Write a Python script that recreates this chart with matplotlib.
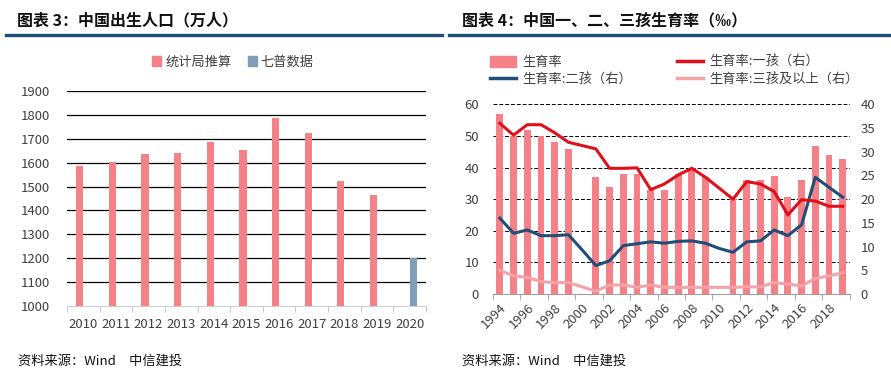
import numpy as np
import matplotlib
matplotlib.use("Agg")
import matplotlib.pyplot as plt
import matplotlib.patches as mpatches
from matplotlib.lines import Line2D

plt.rcParams["font.family"] = ["Noto Sans CJK SC", "DejaVu Sans"]
plt.rcParams["axes.unicode_minus"] = False

# ─── dados: gráfico 3 ─────────────────────────────────────────────────────────
anos_nasc = ["2010", "2011", "2012", "2013", "2014", "2015", "2016",
             "2017", "2018", "2019", "2020"]
nasc_est = [1588, 1604, 1635, 1640, 1687, 1655, 1786, 1723, 1523, 1465, np.nan]
nasc_censo = [np.nan] * 10 + [1200]

# ─── dados: gráfico 4 ─────────────────────────────────────────────────────────
anos_taxa = list(range(1994, 2020))
taxa_total = [57, 50, 52, 50, 48, 46, np.nan, 37, 34, 38, 38, 33, 33, 38, 40,
              37, np.nan, 30, 36, 36, 37.3, 30.6, 36, 46.8, 44, 42.6]
taxa_1 = [36, 33.5, 35.7, 35.7, 34, 32, 31.3, 30.6, 26.5, 26.5, 26.6, 22, 23.2,
          25.1, 26.5, 24.6, 22.3, 20, 23.7, 23.2, 21.6, 16.7, 19.9, 19.6, 18.5, 18.5]
taxa_2 = [16, 12.8, 13.5, 12.3, 12.3, 12.5, 9.3, 6, 7, 10.2, 10.6, 11, 10.7,
          11.1, 11.2, 10.7, 9.6, 8.8, 11, 11.2, 13.5, 12.3, 14.6, 24.6, 22.5, 20.4]
taxa_3 = [5, 3.8, 3.5, 2.6, 2.4, 2.4, 1.5, 0.6, 1.9, 1.9, 1.4, 1.9, 1.4, 1.4,
          1.4, 1.4, 1.4, 1.4, 1.5, 1.5, 2.4, 2.1, 1.7, 3.3, 3.8, 4.5]

# ─── paleta ───────────────────────────────────────────────────────────────────
ROSA = "#F48088"
AZUL_CINZA = "#7F9FB9"
VERMELHO = "#E0101A"
AZUL = "#1F4E79"
ROSA_CLARO = "#F5A3A8"
NAVY = "#1F4E79"
TXT = "#404040"

W, H = 891, 378
fig = plt.figure(figsize=(W / 100, H / 100), dpi=100)
fig.patch.set_facecolor("white")

def fx(px):
    return px / W

def fy(py):
    return 1 - py / H

# títulos e linhas
fig.text(fx(17), fy(20), "图表 3：中国出生人口（万人）", fontsize=11.5,
         fontweight="bold", va="center", ha="left", color="#111111")
fig.text(fx(462), fy(20), "图表 4：中国一、二、三孩生育率（‰）", fontsize=11.5,
         fontweight="bold", va="center", ha="left", color="#111111")
fig.add_artist(Line2D([fx(6), fx(442)], [fy(35), fy(35)], color=NAVY, lw=2.4))
fig.add_artist(Line2D([fx(449), fx(891)], [fy(35), fy(35)], color=NAVY, lw=2.4))

for x0 in (18, 462):
    fig.text(fx(x0), fy(361), "资料来源：Wind　中信建投", fontsize=9.5,
             style="italic", va="center", ha="left", color="#111111")

# ─── gráfico 3 ────────────────────────────────────────────────────────────────
ax1 = fig.add_axes([fx(67), fy(306), fx(426) - fx(67), fy(91) - fy(306)])
x = np.arange(len(anos_nasc))
bw = 0.22
ax1.bar(x - bw / 2, np.array(nasc_est) - 1000, bw, bottom=1000, color=ROSA,
        zorder=3, label="统计局推算")
ax1.bar(x + bw / 2, np.array(nasc_censo) - 1000, bw, bottom=1000,
        color=AZUL_CINZA, zorder=3, label="七普数据")
ax1.set_xlim(-0.5, len(anos_nasc) - 0.5)
ax1.set_ylim(1000, 1900)
ax1.set_yticks(range(1000, 2000, 100))
for v in range(1100, 2000, 100):
    ax1.axhline(v, color="black", lw=0.9, zorder=1)
ax1.set_xticks(x)
ax1.set_xticklabels(anos_nasc)
ax1.set_xticks(np.arange(-0.5, len(anos_nasc), 1), minor=True)
ax1.tick_params(axis="x", which="major", length=0, labelsize=9.5,
                colors=TXT, pad=9)
ax1.tick_params(axis="x", which="minor", length=4, color="#BFBFBF",
                direction="out")
ax1.tick_params(axis="y", length=0, labelsize=9.5, colors=TXT, pad=12)
for s in ("top", "right", "left"):
    ax1.spines[s].set_visible(False)
ax1.spines["bottom"].set_color("#D0D0D0")
ax1.set_facecolor("white")

h1 = [mpatches.Patch(color=ROSA, label="统计局推算"),
      mpatches.Patch(color=AZUL_CINZA, label="七普数据")]
fig.legend(handles=h1, loc="center", bbox_to_anchor=(fx(233), fy(62)),
           ncol=2, frameon=False, fontsize=9.5, handlelength=0.7,
           handleheight=0.7, handletextpad=0.3, columnspacing=1.2,
           labelcolor=TXT)

# ─── gráfico 4 ────────────────────────────────────────────────────────────────
ax2 = fig.add_axes([fx(493), fy(294), fx(849.6) - fx(493), fy(104.3) - fy(294)])
ax2.bar(anos_taxa, taxa_total, 0.5, color=ROSA, zorder=2)
ax2.set_xlim(1993.5, 2019.5)
ax2.set_ylim(0, 60)
ax2.set_yticks(range(0, 61, 10))
for v in range(10, 61, 10):
    ax2.axhline(v, color="black", lw=0.7, ls=(0, (4, 2)), zorder=1)
ax2.set_xticks(range(1994, 2020, 2))
ax2.set_xticklabels([str(a) for a in range(1994, 2020, 2)], rotation=45,
                    ha="right", va="top", rotation_mode="anchor")
ax2.set_xticks(np.arange(1993.5, 2020, 2), minor=True)
ax2.tick_params(axis="x", which="major", length=0, labelsize=9.5,
                colors=TXT, pad=5)
ax2.tick_params(axis="x", which="minor", length=4, color="#A0A0A0")
ax2.tick_params(axis="y", length=0, labelsize=9.5, colors=TXT, pad=10)
for s in ("top", "right", "left"):
    ax2.spines[s].set_visible(False)
ax2.spines["bottom"].set_color("#A0A0A0")

ax3 = ax2.twinx()
ax3.plot(anos_taxa, taxa_3, color=ROSA_CLARO, lw=2.2, zorder=3)
ax3.plot(anos_taxa, taxa_2, color=AZUL, lw=2.2, zorder=4)
ax3.plot(anos_taxa, taxa_1, color=VERMELHO, lw=2.2, zorder=5)
ax3.set_ylim(0, 40)
ax3.set_yticks(range(0, 41, 5))
ax3.tick_params(axis="y", length=0, labelsize=9.5, colors=TXT, pad=8)
for s in ("top", "right", "left", "bottom"):
    ax3.spines[s].set_visible(False)

h2 = [mpatches.Patch(color=ROSA, label="生育率"),
      Line2D([], [], color=AZUL, lw=2.5, label="生育率:二孩（右）"),
      Line2D([], [], color=VERMELHO, lw=2.5, label="生育率:一孩（右）"),
      Line2D([], [], color=ROSA_CLARO, lw=2.5, label="生育率:三孩及以上（右）")]
fig.legend(handles=h2, loc="upper left", bbox_to_anchor=(fx(490), fy(56)),
           ncol=2, frameon=False, fontsize=9.5, handlelength=2.0,
           handleheight=0.9, handletextpad=0.45, columnspacing=3.4,
           labelspacing=0.3, borderpad=0, borderaxespad=0, labelcolor=TXT)

fig.savefig("out.png", dpi=100, facecolor="white")
